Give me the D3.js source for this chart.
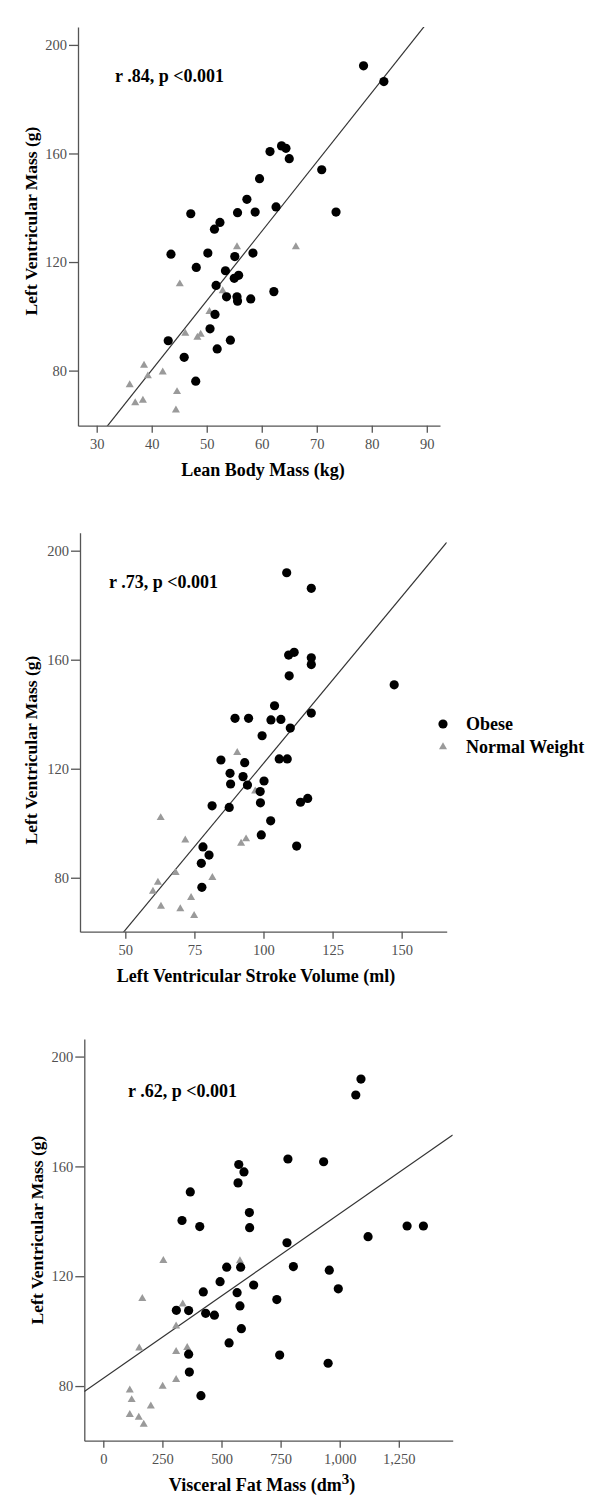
<!DOCTYPE html>
<html>
<head>
<meta charset="utf-8">
<script src="https://cdn.jsdelivr.net/npm/d3@7"></script>
<style>
  body { margin: 0; background: #fff; }
  .tick text { font-family: "Liberation Serif", "Times New Roman", serif; font-size: 14.5px; fill: #505050; }
  .tick line, .domain { stroke: #555; stroke-width: 1.3; }
  .title { font-family: "Liberation Serif", "Times New Roman", serif; font-weight: bold; fill: #000; }
</style>
</head>
<body>
<svg id="chart" width="600" height="1509"></svg>
<script>
/* global d3 */

//* shared y values
var lvmTicks = [80, 120, 160, 200];

//* panel 1 : lean body mass (kg) vs LV mass (g)
var lbmTicks = [30, 40, 50, 60, 70, 80, 90];
var lbmObese = [
  [47.1,137.8],[51.4,132.1],[52.4,134.6],[55.6,138.2],[57.3,143.1],[58.8,138.4],[59.6,150.7],
  [61.5,160.7],[63.6,162.8],[64.4,161.9],[65.0,158.1],[62.6,140.3],[78.5,192.3],[82.2,186.5],
  [70.9,154.0],[73.5,138.4],[43.5,122.9],[50.2,123.3],[55.1,122.0],[58.4,123.3],[48.1,118.0],
  [53.4,116.8],[55.0,114.0],[55.8,115.1],[51.7,111.4],[62.2,109.1],[53.6,107.2],[55.5,107.2],
  [55.6,105.6],[58.0,106.4],[51.5,100.7],[50.6,95.4],[43.0,91.0],[54.3,91.2],[51.9,88.0],
  [45.9,84.9],[48.0,76.1]
];
var lbmNormal = [
  [55.5,125.6],[66.2,125.6],[45.1,111.9],[52.9,109.4],[50.5,101.7],[46.1,93.7],[48.9,93.3],
  [48.3,92.2],[38.6,81.9],[42.0,79.4],[39.3,78.0],[36.0,74.7],[44.6,72.2],[38.4,69.0],
  [37.0,68.1],[44.4,65.4]
];
var lbmFit = [-22.05, 2.556];   // intercept, slope

//* panel 2 : LV stroke volume (ml) vs LV mass (g)
var svTicks = [50, 75, 100, 125, 150];
var svObese = [
  [108.4,191.9],[117.3,186.2],[109.1,161.7],[111.1,162.7],[109.3,154.1],[104.0,143.1],[89.7,138.5],
  [94.6,138.5],[102.7,137.9],[106.3,138.1],[109.7,134.9],[117.3,160.7],[117.3,158.2],[147.3,150.8],
  [117.3,140.4],[99.5,132.1],[84.6,123.2],[105.7,123.6],[108.6,123.6],[87.9,118.3],[93.2,122.2],
  [88.1,114.4],[92.6,117.1],[94.2,114.0],[100.2,115.5],[98.8,111.6],[98.9,107.5],[113.4,107.7],
  [116.0,109.1],[81.4,106.4],[87.6,105.8],[102.6,100.9],[99.2,95.7],[112.0,91.6],[78.1,91.3],
  [80.3,88.3],[77.5,85.3],[77.7,76.5]
];
var svNormal = [
  [90.5,125.9],[97.0,111.8],[62.8,102.0],[71.7,93.8],[93.7,94.2],[91.9,92.6],[68.2,81.9],
  [81.5,80.0],[61.8,78.3],[60.0,75.0],[73.8,72.7],[62.9,69.5],[69.9,68.6],[74.9,66.1]
];
var svFit = [-0.3, 1.2225];

//* panel 3 : visceral fat mass (dm3) vs LV mass (g)
var vfmTicks = [0, 250, 500, 750, 1000, 1250];
var vfmObese = [
  [781,162.7],[573,160.7],[595,158.0],[570,154.0],[368,150.7],[618,143.2],[333,140.3],
  [408,138.1],[619,137.7],[777,132.2],[1090,191.8],[1068,186.0],[932,161.7],[1285,138.3],
  [1354,138.3],[1120,134.4],[522,123.3],[581,123.3],[804,123.5],[494,118.0],[636,116.8],
  [423,114.3],[566,114.0],[734,111.5],[309,107.6],[361,107.5],[433,106.5],[470,105.8],
  [578,109.2],[584,100.9],[532,95.7],[361,91.6],[746,91.3],[364,85.1],[413,76.5],
  [956,122.2],[994,115.4],[951,88.3]
];
var vfmNormal = [
  [254,125.7],[578,125.6],[165,111.8],[336,109.8],[308,101.8],[152,93.8],[355,94.0],
  [308,92.5],[308,82.3],[251,79.9],[112,78.5],[120,75.0],[201,72.7],[112,69.6],
  [150,68.6],[171,66.0]
];
var vfmFit = [82.8, 0.06];

var groups = ["Obese", "Normal Weight"];

//* layout of the three panels
var panels = [
  { left: 78, right: 440, top: 27, bottom: 425.7, xDom: [26.6, 92.4], yDom: [59.7, 206.6],
    xTicks: lbmTicks, obese: lbmObese, normal: lbmNormal, fit: lbmFit,
    note: "r .84, p <0.001", noteX: 115, noteY: 82, yTitleMid: 221, yTitleX: 37,
    xTitle: ["Lean Body Mass (kg)"], xTitleMid: 263 },
  { left: 80, right: 446.7, top: 532.7, bottom: 931.7, xDom: [33.6, 166.3], yDom: [60.2, 206.6],
    xTicks: svTicks, obese: svObese, normal: svNormal, fit: svFit,
    note: "r .73, p <0.001", noteX: 109, noteY: 588, yTitleMid: 750, yTitleX: 37,
    xTitle: ["Left Ventricular Stroke Volume (ml)"], xTitleMid: 256 },
  { left: 84.3, right: 452.7, top: 1039, bottom: 1440.7, xDom: [-80.4, 1478], yDom: [60.1, 206.4],
    xTicks: vfmTicks, obese: vfmObese, normal: vfmNormal, fit: vfmFit,
    note: "r .62, p <0.001", noteX: 128, noteY: 1097, yTitleMid: 1230, yTitleX: 43,
    xTitle: ["Visceral Fat Mass (dm", "3", ")"], xTitleMid: 262, comma: true }
];

var svg = d3.select("#chart");

var triangle = d3.symbol().type(d3.symbolTriangle).size(28);

panels.forEach(function(p, i) {

  var x = d3.scaleLinear().domain(p.xDom).range([p.left, p.right]);
  var y = d3.scaleLinear().domain(p.yDom).range([p.bottom, p.top]);

  var g = svg.append("g").attr("class", "panel" + i);

  //* clip for the fit line
  svg.append("clipPath").attr("id", "clip" + i)
    .append("rect")
    .attr("x", p.left).attr("y", p.top)
    .attr("width", p.right - p.left).attr("height", p.bottom - p.top);

  //* AXES
  g.append("g")
    .attr("transform", "translate(" + p.left + ",0)")
    .call(d3.axisLeft(y).tickValues(lvmTicks).tickSize(9).tickSizeOuter(0).tickPadding(2));

  g.append("g")
    .attr("transform", "translate(0," + p.bottom + ")")
    .call(d3.axisBottom(x).tickValues(p.xTicks).tickSize(7).tickSizeOuter(0).tickPadding(6)
      .tickFormat(p.comma ? d3.format(",") : d3.format("d")));

  //* FIT LINE
  var fx = function(v) { return p.fit[0] + p.fit[1] * v; };
  g.append("line")
    .attr("clip-path", "url(#clip" + i + ")")
    .attr("x1", x(p.xDom[0])).attr("y1", y(fx(p.xDom[0])))
    .attr("x2", x(p.xDom[1])).attr("y2", y(fx(p.xDom[1])))
    .style("stroke", "#333")
    .style("stroke-width", 1.2);

  //* NORMAL WEIGHT triangles
  g.selectAll(".tri").data(p.normal).enter().append("path")
    .attr("class", "tri")
    .attr("d", triangle)
    .attr("transform", function(d) { return "translate(" + x(d[0]) + "," + y(d[1]) + ")"; })
    .style("fill", "#9a9a9a");

  //* OBESE dots
  g.selectAll(".dot").data(p.obese).enter().append("circle")
    .attr("class", "dot")
    .attr("cx", function(d) { return x(d[0]); })
    .attr("cy", function(d) { return y(d[1]); })
    .attr("r", 4.6)
    .style("fill", "#000");

  //* correlation note
  g.append("text")
    .attr("class", "title")
    .attr("x", p.noteX).attr("y", p.noteY)
    .attr("font-size", 18)
    .text(p.note);

  //* Y TITLE
  g.append("text")
    .attr("class", "title")
    .attr("transform", "translate(" + p.yTitleX + "," + p.yTitleMid + ") rotate(-90)")
    .attr("font-size", 17.5)
    .style("text-anchor", "middle")
    .text("Left Ventricular Mass (g)");

  //* X TITLE
  var xt = g.append("text")
    .attr("class", "title")
    .attr("x", p.xTitleMid).attr("y", p.bottom + 50)
    .attr("font-size", 18)
    .style("text-anchor", "middle");
  xt.append("tspan").text(p.xTitle[0]);
  if (p.xTitle.length > 1) {
    xt.append("tspan").attr("dy", -7).attr("font-size", 15).text(p.xTitle[1]);
    xt.append("tspan").attr("dy", 7).text(p.xTitle[2]);
  }
});

//* LEGEND (beside the middle panel)
var legend = svg.append("g").attr("transform", "translate(443,724)");

legend.append("circle").attr("cx", 0).attr("cy", 0).attr("r", 4.6).style("fill", "#000");
legend.append("path").attr("d", triangle).attr("transform", "translate(0,23)").style("fill", "#9a9a9a");

legend.selectAll(".lg").data(groups).enter().append("text")
  .attr("class", "title lg")
  .attr("x", 23)
  .attr("y", function(d, i) { return i * 23 + 6; })
  .attr("font-size", 18)
  .text(function(d) { return d; });
</script>
</body>
</html>
